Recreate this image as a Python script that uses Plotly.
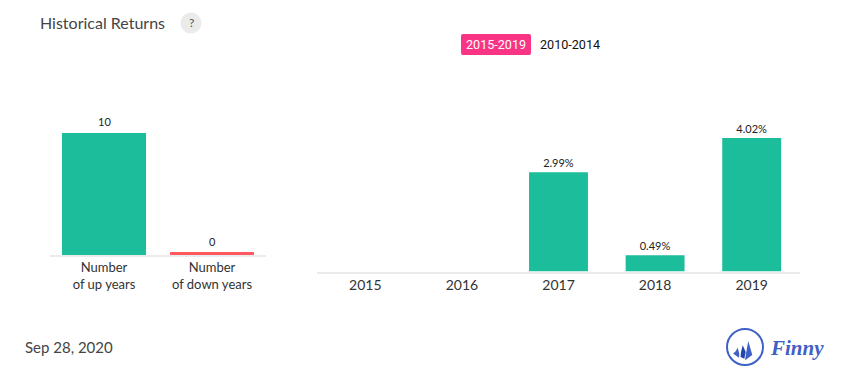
import plotly.graph_objects as go

W, H = 855, 382

count_labels = ["Number<br>of up years", "Number<br>of down years"]
count_values = [10, 0]

years = ["2015", "2016", "2017", "2018", "2019"]
returns = [None, None, 2.99, 0.49, 4.02]
return_labels = ["", "", "2.99%", "0.49%", "4.02%"]

TEAL = "#1bbd9b"
AXIS = "#ebebeb"
LOGO = "#3f60c6"
LOGO_DK = "#2446ad"


def px(v):
    return v / W


def py(v):
    return 1 - v / H


fig = go.Figure()
fig.add_trace(go.Bar(x=count_labels, y=count_values, marker=dict(color=TEAL, line_width=0),
                     width=0.778, xaxis="x", yaxis="y", hoverinfo="skip"))
fig.add_trace(go.Bar(x=years, y=returns, marker=dict(color=TEAL, line_width=0),
                     text=return_labels, textposition="outside", cliponaxis=False,
                     textfont=dict(family="Lato", size=11, color="#222"),
                     width=0.61, xaxis="x2", yaxis="y2", hoverinfo="skip"))

ann = []
for c, v in zip(count_labels, count_values):
    ann.append(dict(x=c, y=v, xref="x", yref="y", text=str(v), showarrow=False, yanchor="bottom",
                    yshift=3 if v else 5, font=dict(family="Lato", size=11, color="#222")))


def label(text, x, y, size, color, family="Lato", anchor="left", **font):
    ann.append(dict(x=px(x), y=py(y), xref="paper", yref="paper", text=text, showarrow=False,
                    xanchor=anchor, yanchor="middle", font=dict(family=family, size=size, color=color, **font)))


label("Historical Returns", 38, 22, 16, "#444")
label("?", 191, 23, 12, "#555", anchor="center")
label("Sep 28, 2020", 23, 347, 15, "#444")
label("2015-2019", 496, 45, 12.6, "#fff", family="Roboto", anchor="center")
label("2010-2014", 570, 45, 12.6, "#111", family="Roboto", anchor="center")
label("<b><i>Finny</i></b>", 768, 348, 21, LOGO, family="Liberation Serif")


def path(points):
    return "M " + " L ".join(f"{px(x)} {py(y)}" for x, y in points) + " Z"


shapes = [
    dict(type="rect", xref="x", yref="y", x0=0.611, x1=1.389, y0=0, y1=3, ysizemode="pixel", yanchor=0,
         fillcolor="#ff5a5f", line_width=0),
    dict(type="circle", xref="paper", yref="paper", x0=px(180.5), x1=px(201.5), y0=py(33.5), y1=py(12.5),
         fillcolor="#ebebeb", line_width=0, layer="below"),
    dict(type="path", xref="paper", yref="paper", layer="below", line_width=0, fillcolor="#f93485",
         path=f"M {px(463)} {py(34)} L {px(529)} {py(34)} Q {px(531)} {py(34)} {px(531)} {py(36)} "
              f"L {px(531)} {py(53)} Q {px(531)} {py(55)} {px(529)} {py(55)} L {px(463)} {py(55)} "
              f"Q {px(461)} {py(55)} {px(461)} {py(53)} L {px(461)} {py(36)} Q {px(461)} {py(34)} {px(463)} {py(34)} Z"),
    dict(type="circle", xref="paper", yref="paper", x0=px(727), x1=px(763), y0=py(365), y1=py(329),
         fillcolor="rgba(0,0,0,0)", line=dict(color=LOGO, width=2)),
    dict(type="path", xref="paper", yref="paper", line_width=0, fillcolor=LOGO,
         path=path([(748.3, 341), (752.3, 355), (745, 360.3), (746.3, 352)])),
    dict(type="path", xref="paper", yref="paper", line_width=0, fillcolor=LOGO_DK,
         path=path([(742.7, 345.3), (745.7, 352), (744.3, 358.7), (740.5, 357), (741, 352)])),
    dict(type="path", xref="paper", yref="paper", line_width=0, fillcolor=LOGO,
         path=path([(737.7, 347.7), (739.3, 353.7), (739, 357.7), (733, 353.5), (735.5, 351.5)])),
]

common_x = dict(type="category", showgrid=False, zeroline=False, showline=True, linecolor=AXIS, linewidth=1.5,
                ticks="", fixedrange=True, automargin=False)
common_y = dict(showgrid=False, zeroline=False, showline=False, showticklabels=False, ticks="", fixedrange=True,
                automargin=False)

fig.update_layout(
    template="none",
    width=W, height=H, margin=dict(l=0, r=0, t=0, b=0, pad=0), paper_bgcolor="white", plot_bgcolor="white",
    showlegend=False, barmode="overlay", annotations=ann, shapes=shapes,
    xaxis=dict(domain=[px(50), px(266)], anchor="y", range=[-0.5, 1.5],
               tickfont=dict(family="Lato", size=13, color="#333"), **common_x),
    yaxis=dict(domain=[py(255), py(95)], range=[0, 160 / 12.2], anchor="x", **common_y),
    xaxis2=dict(domain=[px(317), px(800)], anchor="y2", range=[-0.5, 4.5], categoryorder="array", categoryarray=years,
                tickfont=dict(family="Lato", size=14, color="#333"), **common_x),
    yaxis2=dict(domain=[py(271.5), py(95)], range=[0, 176.5 / 33.2], anchor="x2", **common_y),
)

fig.write_html("out.html", config={"displayModeBar": False},
               post_script="document.body.style.margin='0';document.documentElement.style.overflow='hidden';")
